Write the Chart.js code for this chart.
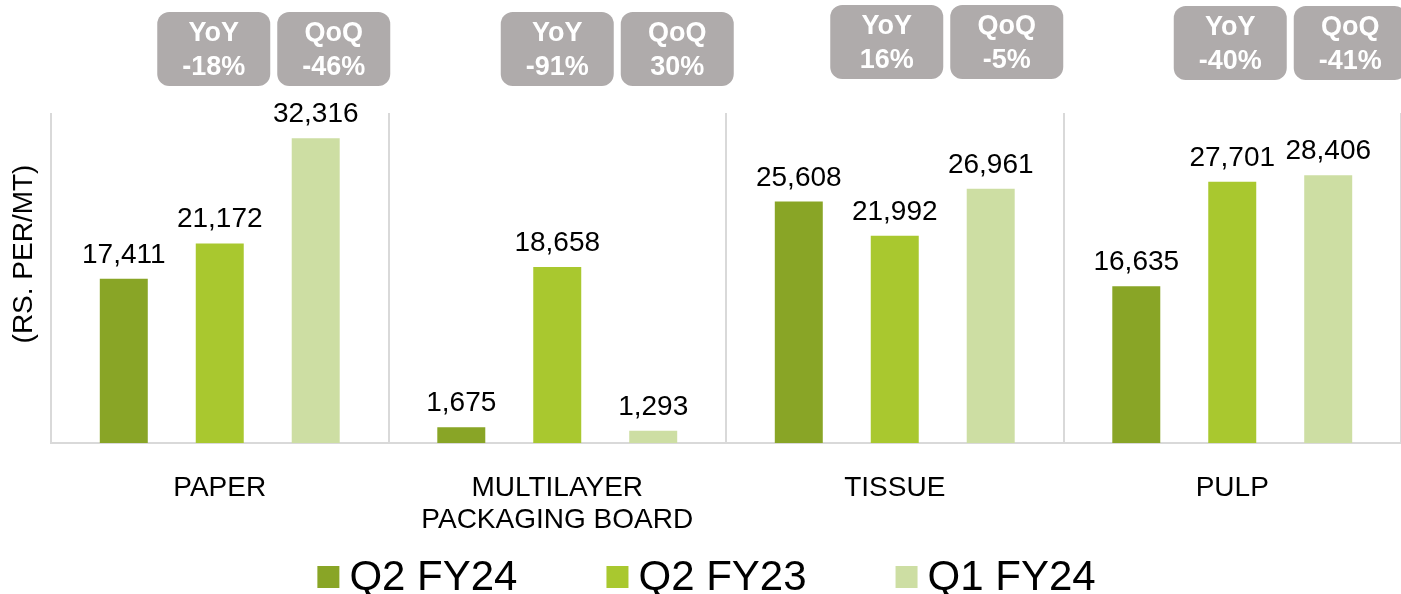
<!DOCTYPE html>
<html>
<head>
<meta charset="utf-8">
<script src="https://cdn.jsdelivr.net/npm/chart.js@4.4.0/dist/chart.umd.min.js"></script>
<style>
  body { margin: 0; background: #fff; }
</style>
</head>
<body>
<canvas id="priceChart" width="1401" height="594"></canvas>
<script>
// Chart data
const categories = [['PAPER'], ['MULTILAYER', 'PACKAGING BOARD'], ['TISSUE'], ['PULP']];
const seriesNames = ['Q2 FY24', 'Q2 FY23', 'Q1 FY24'];
const q2fy24 = [17411, 1675, 25608, 16635];
const q2fy23 = [21172, 18658, 21992, 27701];
const q1fy24 = [32316, 1293, 26961, 28406];
const yoyLabels = ['-18%', '-91%', '16%', '-40%'];
const qoqLabels = ['-46%', '30%', '-5%', '-41%'];
const yTitle = '(RS. PER/MT)';

// Colours and layout bits
const colors = ['#89a526', '#a9c82f', '#cddea3'];
const FONT = '"Liberation Sans", Arial, sans-serif';
const boxShift = [-6, 0, -8, -2];   // YoY box offset from category centre
const boxTop = [12, 12, 5, 6];

// Draws value labels, YoY/QoQ boxes, axis title and legend
const extras = {
    id: 'extras',
    afterDatasetsDraw(chart) {
        const ctx = chart.ctx;
        ctx.save();

        // value labels above bars
        ctx.font = '28px ' + FONT;
        ctx.fillStyle = '#000';
        ctx.textAlign = 'center';
        ctx.textBaseline = 'alphabetic';
        chart.data.datasets.forEach((ds, di) => {
            chart.getDatasetMeta(di).data.forEach((bar, i) => {
                ctx.fillText(ds.data[i].toLocaleString('en-US'), bar.x, bar.y - 16);
            });
        });

        // YoY / QoQ boxes
        const xScale = chart.scales.x;
        categories.forEach((c, i) => {
            const cx = xScale.getPixelForValue(i) + boxShift[i];
            const boxes = [['YoY', yoyLabels[i], cx], ['QoQ', qoqLabels[i], cx + 120]];
            boxes.forEach(([head, val, bx]) => {
                ctx.fillStyle = '#afabab';
                ctx.beginPath();
                ctx.roundRect(bx - 56.5, boxTop[i], 113, 74, 12);
                ctx.fill();
                ctx.fillStyle = '#fff';
                ctx.font = 'bold 27px ' + FONT;
                ctx.textBaseline = 'middle';
                ctx.fillText(head, bx, boxTop[i] + 22);
                ctx.fillText(val, bx, boxTop[i] + 56);
            });
        });

        // rotated y axis title
        ctx.fillStyle = '#000';
        ctx.font = '28px ' + FONT;
        ctx.translate(24, 254);
        ctx.rotate(-Math.PI / 2);
        ctx.fillText(yTitle, 0, 0);
        ctx.restore();

        // legend
        ctx.save();
        ctx.font = '42px ' + FONT;
        ctx.textBaseline = 'middle';
        ctx.textAlign = 'left';
        const gap = 89;
        const widths = seriesNames.map(n => 32 + ctx.measureText(n).width);
        const total = widths.reduce((a, b) => a + b, 0) + gap * (seriesNames.length - 1);
        let x = chart.width / 2 + 6 - total / 2;
        seriesNames.forEach((n, i) => {
            ctx.fillStyle = colors[i];
            ctx.fillRect(x, 566, 22, 22);
            ctx.fillStyle = '#000';
            ctx.fillText(n, x + 32, 578);
            x += widths[i] + gap;
        });
        ctx.restore();
    }
};

const ctx = document.getElementById('priceChart').getContext('2d');
new Chart(ctx, {
    type: 'bar',
    data: {
        labels: categories,
        datasets: [
            { label: seriesNames[0], data: q2fy24, backgroundColor: colors[0] },
            { label: seriesNames[1], data: q2fy23, backgroundColor: colors[1] },
            { label: seriesNames[2], data: q1fy24, backgroundColor: colors[2] }
        ]
    },
    options: {
        responsive: false,
        animation: false,
        datasets: {
            bar: { categoryPercentage: 0.853, barPercentage: 0.5 }
        },
        layout: { padding: { top: 113, left: 0, right: 0, bottom: 0 } },
        scales: {
            x: {
                offset: true,
                grid: { color: '#d9d9d9', lineWidth: 2, offset: true, drawTicks: false },
                border: { color: '#d9d9d9', width: 2 },
                ticks: {
                    color: '#000',
                    padding: 29,
                    maxRotation: 0,
                    autoSkip: false,
                    font: { family: FONT, size: 28, lineHeight: 1.15 }
                },
                afterFit: (scale) => { scale.height = 151; }
            },
            y: {
                min: 0,
                max: 35000,
                ticks: { display: false },
                grid: { display: false, drawTicks: false },
                border: { display: false },
                afterFit: (scale) => { scale.width = 51; }
            }
        },
        plugins: {
            legend: { display: false },
            tooltip: { enabled: false }
        }
    },
    plugins: [extras]
});
</script>
</body>
</html>
